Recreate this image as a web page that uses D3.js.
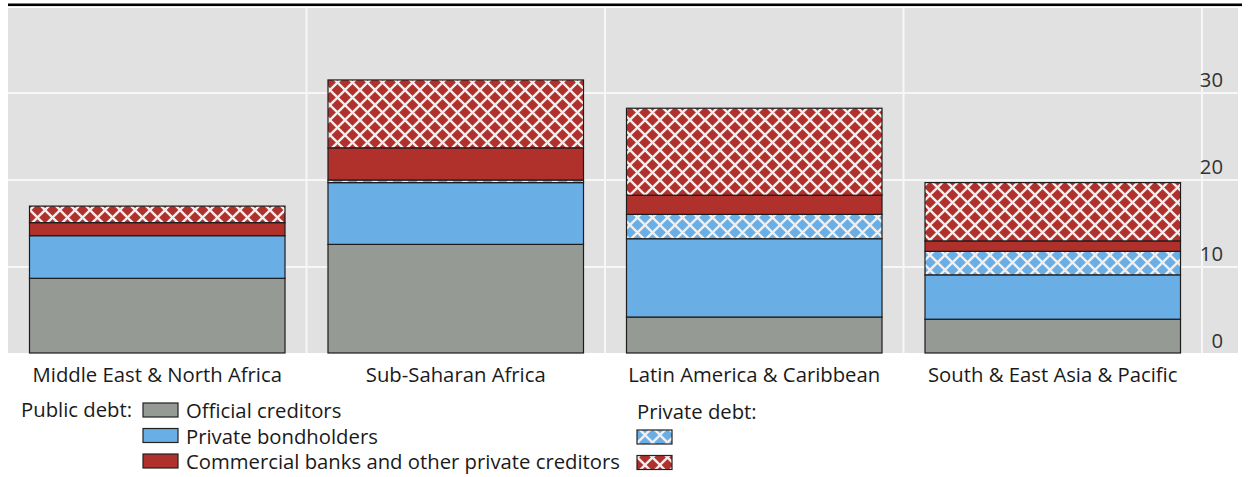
<!DOCTYPE html>
<html>
<head>
<meta charset="utf-8">
<script src="https://cdn.jsdelivr.net/npm/d3@7"></script>
<style>
  html, body { margin: 0; padding: 0; background: #ffffff; }
  svg { display: block; }
  text { font-family: "Open Sans", "Noto Sans", sans-serif; fill: #1a1a1a; }
</style>
</head>
<body>
<svg id="chart" width="1254" height="477"></svg>
<script>
// Regions shown on the x axis
const regions = [
  "Middle East & North Africa",
  "Sub-Saharan Africa",
  "Latin America & Caribbean",
  "South & East Asia & Pacific"
];

// Public debt, by creditor
const officialCreditors   = [8.7, 12.6, 4.25, 4.0];
const privateBondholders  = [4.9, 7.1, 9.0, 5.1];
const commercialBanks     = [1.5, 3.7, 2.2, 1.2];

// Private debt, by creditor
const privateDebtBonds    = [0.0, 0.3, 2.8, 2.7];
const privateDebtBanks    = [1.9, 7.8, 10.0, 6.7];

// Y axis ticks
const yTicks = [0, 10, 20, 30];
const yTickLabels = ["0", "10", "20", "30"];

// Stacking order from bottom to top
const layers = [
  { key: "official",  values: officialCreditors,  fill: "#959a94", hatch: false },
  { key: "bonds",     values: privateBondholders, fill: "#6aaee6", hatch: false },
  { key: "pbonds",    values: privateDebtBonds,   fill: "#6aaee6", hatch: true  },
  { key: "banks",     values: commercialBanks,    fill: "#b0302c", hatch: false },
  { key: "pbanks",    values: privateDebtBanks,   fill: "#b0302c", hatch: true  }
];

const FONT = 20.3;

const svg = d3.select("#chart");

const plot = { left: 8, right: 1238, top: 8, bottom: 353 };
const bandRight = 1202;

const x = d3.scaleBand().domain(regions).range([plot.left, bandRight]).padding(0);
const y = d3.scaleLinear().domain([0, 30]).range([354, 93]);

// Hatch patterns: white crossing diagonals over the series colour
const defs = svg.append("defs");
function addHatch(id, colour) {
  const s = 15;
  const p = defs.append("pattern")
    .attr("id", id)
    .attr("patternUnits", "userSpaceOnUse")
    .attr("width", s).attr("height", s);
  p.append("rect").attr("width", s).attr("height", s).attr("fill", colour);
  const g = p.append("g").attr("stroke", "#f4efef").attr("stroke-width", 2.3);
  g.append("line").attr("x1", -1).attr("y1", -1).attr("x2", s + 1).attr("y2", s + 1);
  g.append("line").attr("x1", -1).attr("y1", s + 1).attr("x2", s + 1).attr("y2", -1);
}
addHatch("hatch-blue", "#6aaee6");
addHatch("hatch-red", "#b0302c");

// Top rule
svg.append("rect")
  .attr("x", 8).attr("y", 3.5).attr("width", 1234).attr("height", 2.6)
  .attr("fill", "#000");

// Plot background
svg.append("rect")
  .attr("x", plot.left).attr("y", plot.top)
  .attr("width", plot.right - plot.left).attr("height", plot.bottom - plot.top)
  .attr("fill", "#e1e1e1");

// Horizontal gridlines
svg.append("g")
  .selectAll("line")
  .data(yTicks.filter(t => t > 0))
  .join("line")
  .attr("x1", plot.left).attr("x2", plot.right)
  .attr("y1", d => y(d)).attr("y2", d => y(d))
  .attr("stroke", "#f7f7f7").attr("stroke-width", 2);

// Vertical gridlines at category boundaries
const bounds = regions.slice(1).map(r => x(r)).concat([x(regions[regions.length - 1]) + x.bandwidth()]);
svg.append("g")
  .selectAll("line")
  .data(bounds)
  .join("line")
  .attr("x1", d => d).attr("x2", d => d)
  .attr("y1", plot.top).attr("y2", plot.bottom)
  .attr("stroke", "#f7f7f7").attr("stroke-width", 2);

// Stacked bars
const barInset = x.bandwidth() * 0.072;
const barWidth = x.bandwidth() - 2 * barInset;
const stacked = regions.map((r, i) => {
  let base = 0;
  return layers.map(l => {
    const v = l.values[i];
    const seg = { region: r, y0: base, y1: base + v, layer: l };
    base += v;
    return seg;
  });
});

const barG = svg.append("g");
stacked.forEach(segs => {
  barG.selectAll(null)
    .data(segs.filter(s => s.y1 > s.y0))
    .join("rect")
    .attr("x", s => x(s.region) + barInset)
    .attr("width", barWidth)
    .attr("y", s => y(s.y1))
    .attr("height", s => Math.min(y(s.y0), plot.bottom) - y(s.y1))
    .attr("fill", s => s.layer.hatch
      ? (s.layer.fill === "#6aaee6" ? "url(#hatch-blue)" : "url(#hatch-red)")
      : s.layer.fill)
    .attr("stroke", "#1c1c1c")
    .attr("stroke-width", 1.2);
});

// Right-hand axis labels
svg.append("g")
  .selectAll("text")
  .data(yTicks)
  .join("text")
  .attr("x", 1223)
  .attr("y", d => y(d) - 11)
  .attr("text-anchor", "end")
  .attr("dominant-baseline", "middle")
  .attr("font-size", FONT)
  .style("fill", "#333")
  .text((d, i) => yTickLabels[i]);

// Category labels
svg.append("g")
  .selectAll("text")
  .data(regions)
  .join("text")
  .attr("x", d => x(d) + x.bandwidth() / 2)
  .attr("y", 382)
  .attr("text-anchor", "middle")
  .attr("font-size", FONT)
  .text(d => d);

// Legend
const legend = svg.append("g");
legend.append("text").attr("x", 21).attr("y", 417).attr("font-size", FONT).text("Public debt:");
const legendRows = [
  { label: "Official creditors", fill: "#959a94" },
  { label: "Private bondholders", fill: "#6aaee6" },
  { label: "Commercial banks and other private creditors", fill: "#b0302c" }
];
legendRows.forEach((r, i) => {
  const yy = 403 + i * 25.5;
  legend.append("rect")
    .attr("x", 143).attr("y", yy).attr("width", 35).attr("height", 14)
    .attr("fill", r.fill).attr("stroke", "#222").attr("stroke-width", 1.2);
  legend.append("text")
    .attr("x", 186).attr("y", yy + 15).attr("font-size", FONT).text(r.label);
});
legend.append("text").attr("x", 637).attr("y", 419).attr("font-size", FONT).text("Private debt:");
["url(#hatch-blue)", "url(#hatch-red)"].forEach((f, i) => {
  legend.append("rect")
    .attr("x", 637).attr("y", 430 + i * 25.5).attr("width", 35).attr("height", 14)
    .attr("fill", f).attr("stroke", "#222").attr("stroke-width", 1.2);
});
</script>
</body>
</html>
